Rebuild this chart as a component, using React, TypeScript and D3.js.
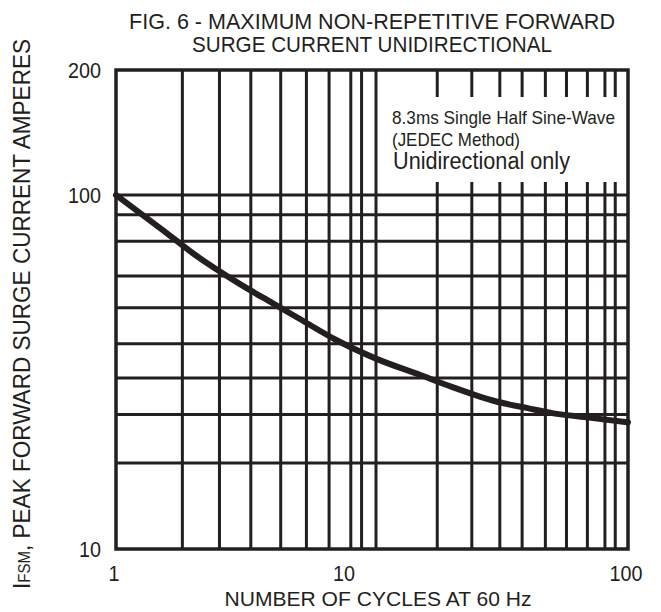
import * as d3 from 'd3'

// curve
const cycles = [1, 1.5, 2, 3, 4, 5, 7, 10, 15, 20, 30, 40, 50, 70, 100]
const amps = [100, 80, 68, 56, 49.5, 45, 39, 34.5, 31, 28.7, 26.1, 25, 24.2, 23.5, 22.8]

// hand-drawn grid lines as they sit in the reference
const xGrid = [1.8, 2.5, 3.3, 4.3, 5.4, 6.6, 8, 8.8, 10, 17.5, 24, 31, 38, 47, 57, 69, 81, 89]
const yGrid = [100, 88, 74, 59, 48, 38, 30.4, 24, 17.5]

const xTicks = [1, 10, 100]
const yTicks = [10, 100, 200]

const titleLines = ['FIG. 6 - MAXIMUM NON-REPETITIVE FORWARD', 'SURGE CURRENT UNIDIRECTIONAL']
const noteLines = ['8.3ms Single Half Sine-Wave', '(JEDEC Method)', 'Unidirectional only']

const W = 661
const H = 612
const m = { left: 116, right: 628, top: 70, bottom: 549 }
const ink = '#231f20'
const font = "'Liberation Sans Narrow', 'Arial Narrow', 'Liberation Sans', sans-serif"

export default function App() {
  // decades are not the same length in the original, so piecewise log
  const x = d3.scaleLog().domain([1, 10, 100]).range([m.left, 376, m.right])
  const y = d3.scaleLog().domain([10, 100, 200]).range([m.bottom, 195, m.top])

  const pts = cycles.map((c, i) => [x(c), y(amps[i])] as [number, number])
  const line = d3.line().curve(d3.curveMonotoneX)(pts) || ''

  const boxX = x(10) + 3
  const boxY = 97

  // the original prints its x labels a little left of the lines
  const xLabelShift = (v: number) => (v === 1 ? -2 : v === 10 ? -32 : -2)

  return (
    <svg width={W} height={H} style={{ position: 'absolute', left: 0, top: 0, background: '#fff' }}>
      <rect width={W} height={H} fill="#fff" />

      {/* title */}
      <g fontFamily={font} fontSize={22} fill={ink} textAnchor="middle">
        <text x={372} y={29} textLength={486} lengthAdjust="spacingAndGlyphs">{titleLines[0]}</text>
        <text x={372} y={52} textLength={360} lengthAdjust="spacingAndGlyphs">{titleLines[1]}</text>
      </g>

      {/* grid */}
      <g stroke={ink} strokeWidth={3}>
        {xGrid.map(v => (
          <line key={'x' + v} x1={x(v)} x2={x(v)} y1={m.top} y2={m.bottom} />
        ))}
        {yGrid.map(v => (
          <line key={'y' + v} x1={m.left} x2={m.right} y1={y(v)} y2={y(v)} />
        ))}
      </g>

      {/* note box hides the grid */}
      <rect x={boxX} y={boxY} width={m.right - boxX - 1} height={182 - boxY} fill="#fff" />
      <g fontFamily={font} fill={ink}>
        <text x={392} y={124} fontSize={19} textLength={223} lengthAdjust="spacingAndGlyphs">{noteLines[0]}</text>
        <text x={392} y={146} fontSize={19} textLength={128} lengthAdjust="spacingAndGlyphs">{noteLines[1]}</text>
        <text x={393} y={169} fontSize={23} textLength={177} lengthAdjust="spacingAndGlyphs">{noteLines[2]}</text>
      </g>

      <rect x={m.left} y={m.top} width={m.right - m.left} height={m.bottom - m.top}
        fill="none" stroke={ink} strokeWidth={3.5} />

      <path d={line} fill="none" stroke={ink} strokeWidth={6} strokeLinecap="round" />

      {/* tick labels */}
      <g fontFamily={font} fontSize={22} fill={ink}>
        {yTicks.map(v => (
          <text key={'yt' + v} x={101} y={y(v)} dy="0.35em" textAnchor="end"
            textLength={String(v).length * 11} lengthAdjust="spacingAndGlyphs">{v}</text>
        ))}
        {xTicks.map(v => (
          <text key={'xt' + v} x={x(v) + xLabelShift(v)} y={581} textAnchor="middle"
            textLength={String(v).length * 11} lengthAdjust="spacingAndGlyphs">{v}</text>
        ))}
        <text x={378} y={606} fontSize={21} textAnchor="middle" textLength={307} lengthAdjust="spacingAndGlyphs">
          NUMBER OF CYCLES AT 60 Hz
        </text>
      </g>

      {/* y title */}
      <text transform="translate(30,314) rotate(-90)" fontFamily={font} fontSize={24} fill={ink}
        textAnchor="middle" textLength={550} lengthAdjust="spacingAndGlyphs">
        I<tspan fontSize={16}>FSM</tspan>, PEAK FORWARD SURGE CURRENT AMPERES
      </text>
    </svg>
  )
}
